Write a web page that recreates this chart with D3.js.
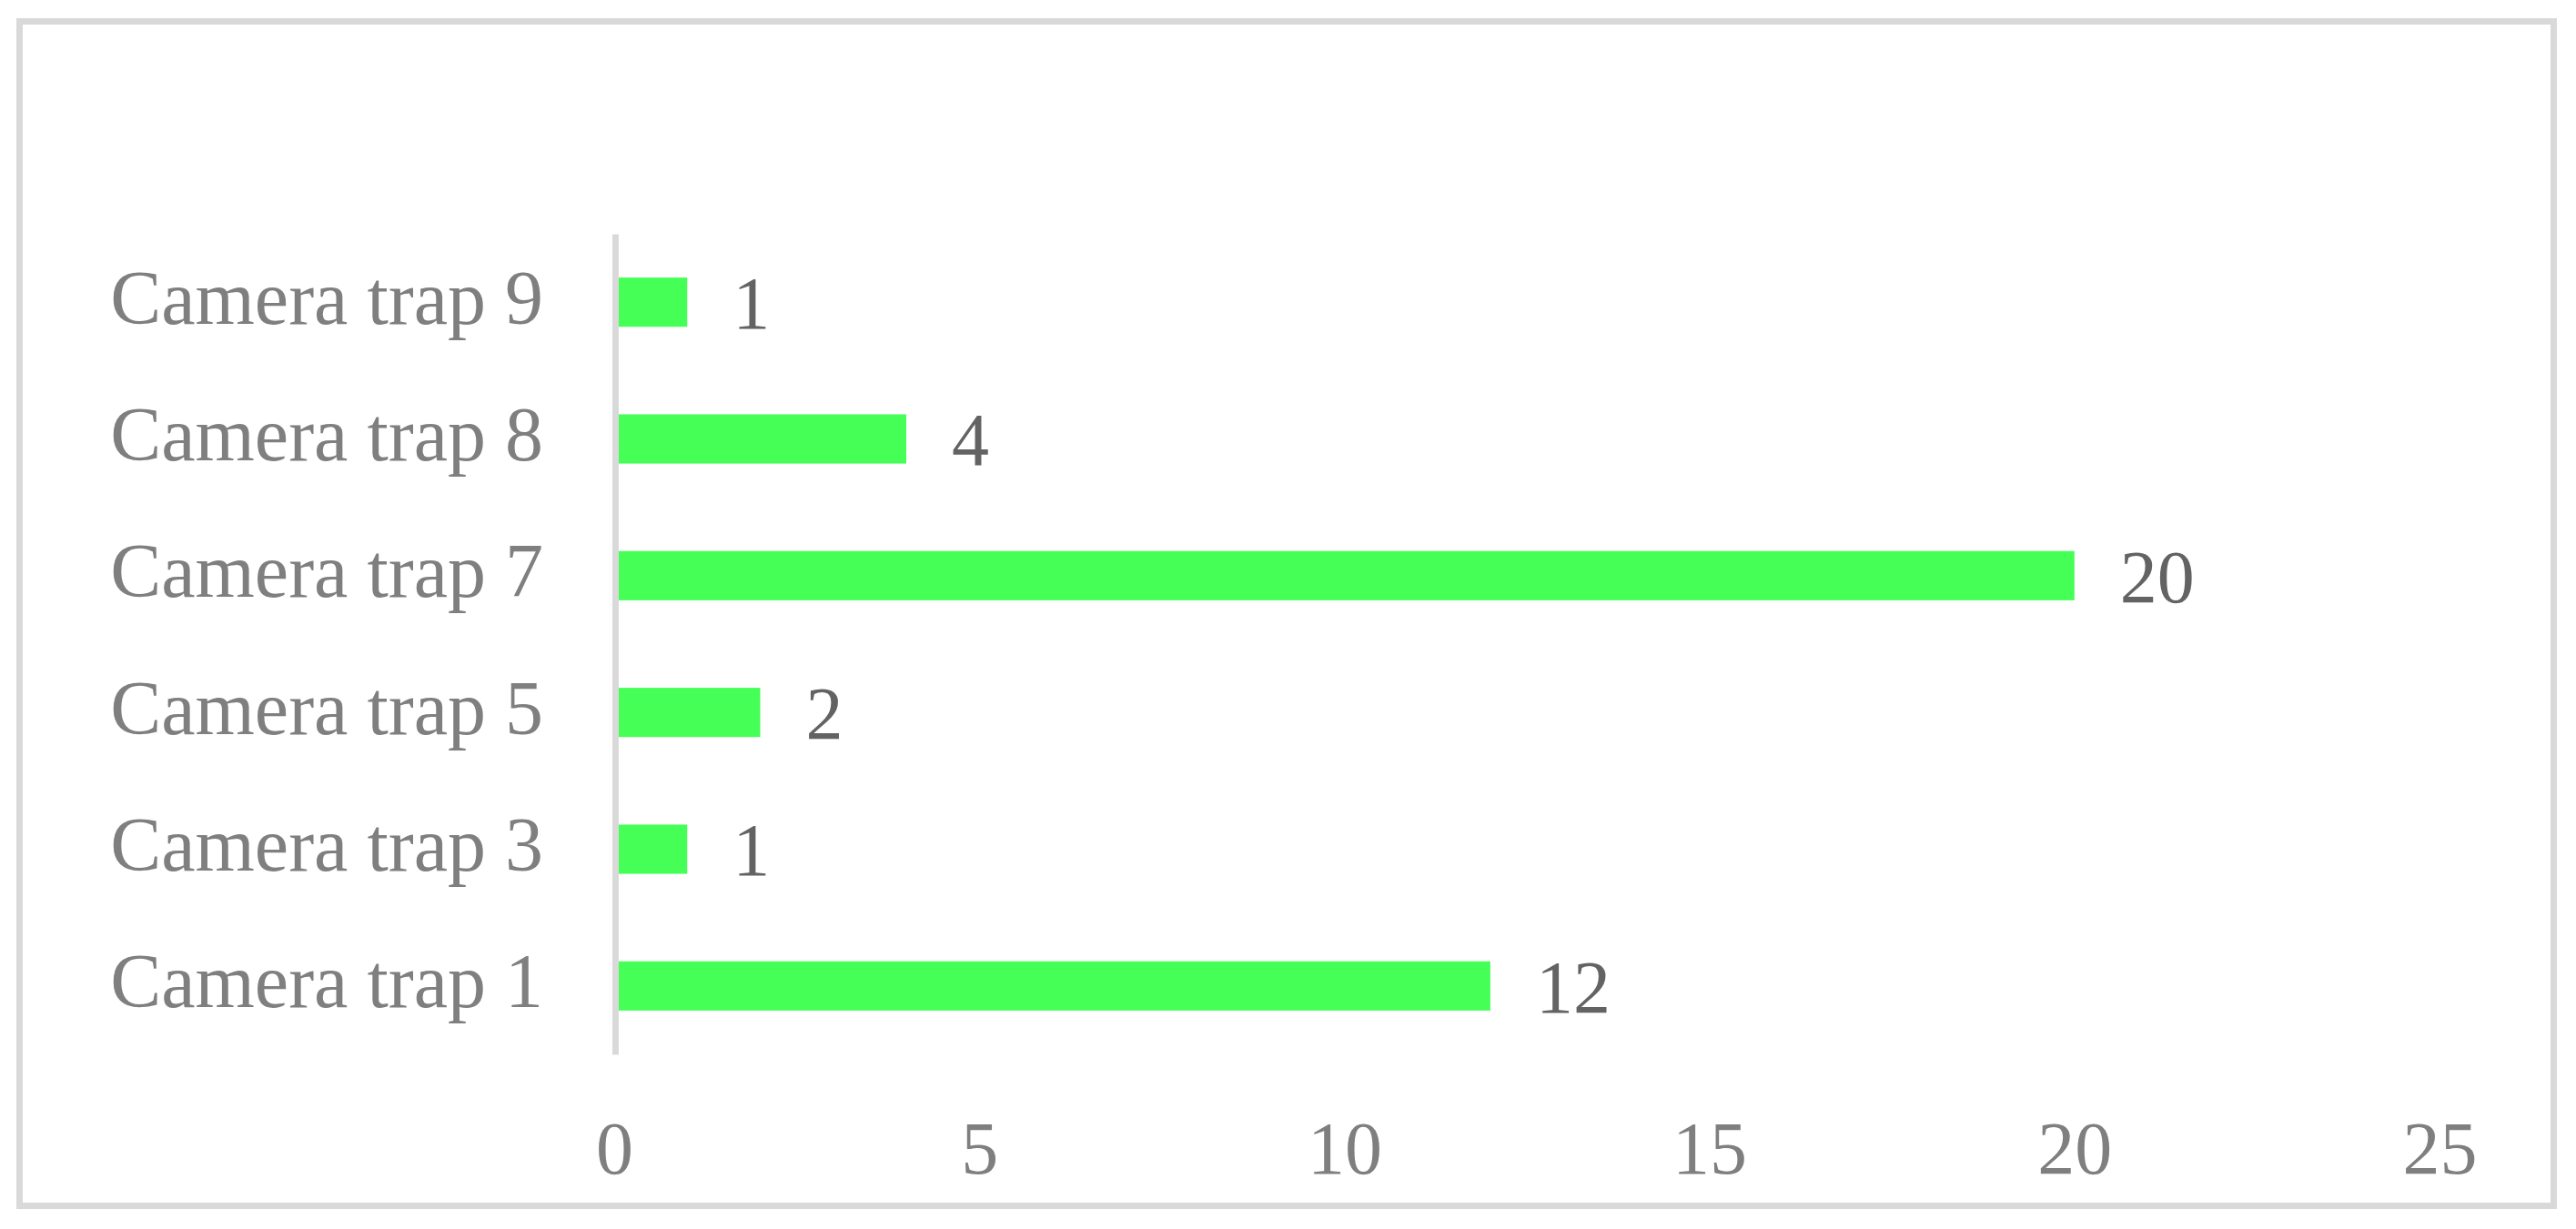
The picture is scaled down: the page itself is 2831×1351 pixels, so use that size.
<!DOCTYPE html>
<html>
<head>
<meta charset="utf-8">
<script src="https://cdn.jsdelivr.net/npm/d3@7/dist/d3.min.js"></script>
<style>
  body { margin: 0; background: #ffffff; }
  text { font-family: "Liberation Serif", "Times New Roman", serif; }
</style>
</head>
<body>
<div id="chart"></div>
<script>
/** Chart data */
const categories = ["Camera trap 9", "Camera trap 8", "Camera trap 7", "Camera trap 5", "Camera trap 3", "Camera trap 1"];
const counts = [1, 4, 20, 2, 1, 12];
const xTicks = [0, 5, 10, 15, 20, 25];

const width = 2831;
const height = 1351;

const svg = d3
  .select("#chart")
  .append("svg")
  .attr("width", width)
  .attr("height", height);

/** Outer frame */
svg
  .append("rect")
  .attr("x", 21.5)
  .attr("y", 23.5)
  .attr("width", 2785)
  .attr("height", 1302)
  .attr("fill", "#ffffff")
  .attr("stroke", "#d9d9d9")
  .attr("stroke-width", 7);

const x = d3.scaleLinear().domain([0, 25]).range([675, 2681]);
const y = d3
  .scaleBand()
  .domain(categories)
  .range([257, 1159])
  .paddingInner(0.64)
  .paddingOuter(0.32);

const data = categories.map((c, i) => ({ label: c, value: counts[i] }));

/** Bars */
svg
  .selectAll("rect.bar")
  .data(data)
  .enter()
  .append("rect")
  .attr("class", "bar")
  .attr("x", x(0))
  .attr("y", (d) => y(d.label))
  .attr("width", (d) => x(d.value) - x(0))
  .attr("height", y.bandwidth())
  .attr("fill", "#45ff57");

/** Value labels */
svg
  .selectAll("text.val")
  .data(data)
  .enter()
  .append("text")
  .attr("class", "val")
  .attr("x", (d) => x(d.value) + 50)
  .attr("y", (d) => y(d.label) + y.bandwidth() / 2)
  .attr("dy", "0.35em")
  .attr("font-size", 82)
  .attr("fill", "#636363")
  .text((d) => d.value);

/** Category axis */
const yAxis = svg
  .append("g")
  .attr("transform", `translate(${x(0) + 1},0)`)
  .call(d3.axisLeft(y).tickSize(0).tickSizeOuter(0).tickPadding(79));
yAxis.select(".domain").attr("stroke", "#d9d9d9").attr("stroke-width", 7);
yAxis
  .selectAll("text")
  .attr("font-size", 84)
  .attr("font-family", "Liberation Serif")
  .attr("fill", "#7f7f7f")
  .attr("dy", "0.28em");

/** Value axis */
const xAxis = svg
  .append("g")
  .attr("transform", "translate(0,1159)")
  .call(d3.axisBottom(x).tickValues(xTicks).tickSize(0).tickPadding(73));
xAxis.select(".domain").remove();
xAxis
  .selectAll("text")
  .attr("font-size", 82)
  .attr("font-family", "Liberation Serif")
  .attr("fill", "#7f7f7f");
</script>
</body>
</html>
